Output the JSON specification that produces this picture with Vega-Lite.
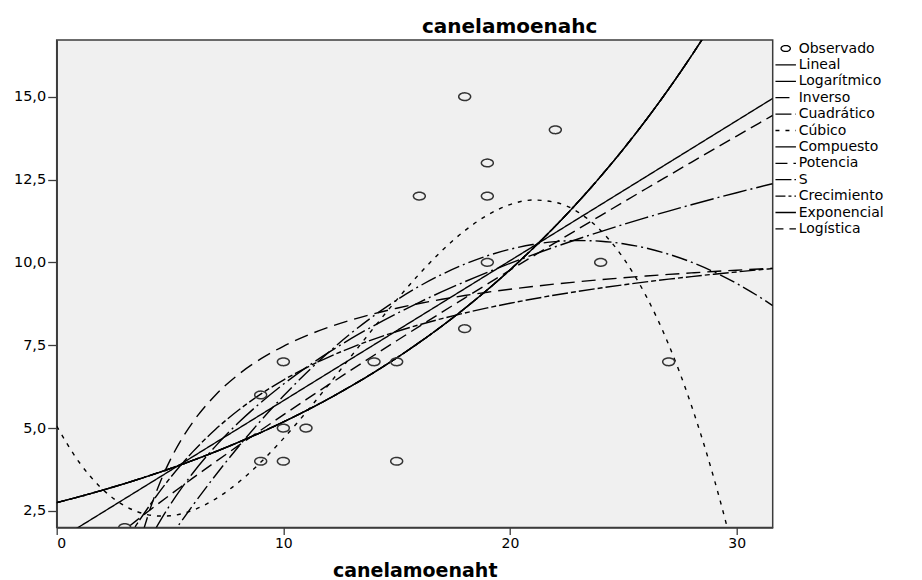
{
  "$schema": "https://vega.github.io/schema/vega-lite/v6.json",
  "width": 716,
  "height": 487.5,
  "autosize": {"type": "none"},
  "padding": {"left": 56.7, "top": 40, "right": 149.3, "bottom": 52.5},
  "background": "white",
  "title": {"text": "canelamoenahc", "font": "DejaVu Sans", "fontSize": 20, "fontWeight": "bold", "color": "black", "anchor": "middle", "dx": 95, "offset": 3},
  "datasets": {
    "observado": [
      {"x": 3, "y": 2, "modelo": "Observado"},
      {"x": 9, "y": 6, "modelo": "Observado"},
      {"x": 9, "y": 4, "modelo": "Observado"},
      {"x": 10, "y": 7, "modelo": "Observado"},
      {"x": 10, "y": 5, "modelo": "Observado"},
      {"x": 10, "y": 4, "modelo": "Observado"},
      {"x": 11, "y": 5, "modelo": "Observado"},
      {"x": 14, "y": 7, "modelo": "Observado"},
      {"x": 15, "y": 7, "modelo": "Observado"},
      {"x": 15, "y": 4, "modelo": "Observado"},
      {"x": 16, "y": 12, "modelo": "Observado"},
      {"x": 18, "y": 15, "modelo": "Observado"},
      {"x": 18, "y": 8, "modelo": "Observado"},
      {"x": 19, "y": 13, "modelo": "Observado"},
      {"x": 19, "y": 12, "modelo": "Observado"},
      {"x": 19, "y": 10, "modelo": "Observado"},
      {"x": 22, "y": 14, "modelo": "Observado"},
      {"x": 24, "y": 10, "modelo": "Observado"},
      {"x": 27, "y": 7, "modelo": "Observado"}
    ],
    "curvas": [
      {"x": 0, "Lineal": 1.600, "Cúbico": 5.056, "Compuesto": 2.750, "Crecimiento": 2.750, "Exponencial": 2.750, "Logística": 2.750},
      {"x": 1, "Lineal": 2.023, "Cúbico": 3.961, "Compuesto": 2.930, "Crecimiento": 2.930, "Exponencial": 2.930, "Logística": 2.930},
      {"x": 2, "Lineal": 2.445, "Cúbico": 3.168, "Potencia": 1.364, "Compuesto": 3.122, "Crecimiento": 3.122, "Exponencial": 3.122, "Logística": 3.122},
      {"x": 3, "Lineal": 2.868, "Logarítmico": -0.009, "Inverso": -0.565, "Cuadrático": -0.389, "Cúbico": 2.653, "Potencia": 1.929, "S": 1.538, "Compuesto": 3.326, "Crecimiento": 3.326, "Exponencial": 3.326, "Logística": 3.326},
      {"x": 3.5, "Lineal": 3.079, "Logarítmico": 0.802, "Inverso": 1.075, "Cuadrático": 0.154, "Cúbico": 2.492, "Potencia": 2.200, "S": 2.061, "Compuesto": 3.433, "Crecimiento": 3.433, "Exponencial": 3.433, "Logística": 3.433},
      {"x": 4, "Lineal": 3.290, "Logarítmico": 1.504, "Inverso": 2.304, "Cuadrático": 0.683, "Cúbico": 2.390, "Potencia": 2.466, "S": 2.566, "Compuesto": 3.544, "Crecimiento": 3.544, "Exponencial": 3.544, "Logística": 3.544},
      {"x": 4.5, "Lineal": 3.501, "Logarítmico": 2.123, "Inverso": 3.261, "Cuadrático": 1.198, "Cúbico": 2.345, "Potencia": 2.728, "S": 3.044, "Compuesto": 3.658, "Crecimiento": 3.658, "Exponencial": 3.658, "Logística": 3.658},
      {"x": 5, "Lineal": 3.713, "Logarítmico": 2.678, "Inverso": 4.026, "Cuadrático": 1.700, "Cúbico": 2.353, "Potencia": 2.985, "S": 3.489, "Compuesto": 3.776, "Crecimiento": 3.776, "Exponencial": 3.776, "Logística": 3.776},
      {"x": 5.5, "Lineal": 3.924, "Logarítmico": 3.179, "Inverso": 4.652, "Cuadrático": 2.188, "Cúbico": 2.412, "Potencia": 3.238, "S": 3.901, "Compuesto": 3.897, "Crecimiento": 3.897, "Exponencial": 3.897, "Logística": 3.897},
      {"x": 6, "Lineal": 4.135, "Logarítmico": 3.637, "Inverso": 5.174, "Cuadrático": 2.662, "Cúbico": 2.518, "Potencia": 3.488, "S": 4.282, "Compuesto": 4.023, "Crecimiento": 4.023, "Exponencial": 4.023, "Logística": 4.023},
      {"x": 7, "Lineal": 4.558, "Logarítmico": 4.447, "Inverso": 5.993, "Cuadrático": 3.570, "Cúbico": 2.859, "Potencia": 3.980, "S": 4.956, "Compuesto": 4.286, "Crecimiento": 4.286, "Exponencial": 4.286, "Logística": 4.286},
      {"x": 8, "Lineal": 4.980, "Logarítmico": 5.150, "Inverso": 6.608, "Cuadrático": 4.423, "Cúbico": 3.350, "Potencia": 4.461, "S": 5.530, "Compuesto": 4.567, "Crecimiento": 4.567, "Exponencial": 4.567, "Logística": 4.567},
      {"x": 9, "Lineal": 5.403, "Logarítmico": 5.769, "Inverso": 7.086, "Cuadrático": 5.221, "Cúbico": 3.966, "Potencia": 4.933, "S": 6.023, "Compuesto": 4.866, "Crecimiento": 4.866, "Exponencial": 4.866, "Logística": 4.866},
      {"x": 10, "Lineal": 5.825, "Logarítmico": 6.324, "Inverso": 7.469, "Cuadrático": 5.965, "Cúbico": 4.682, "Potencia": 5.398, "S": 6.448, "Compuesto": 5.184, "Crecimiento": 5.184, "Exponencial": 5.184, "Logística": 5.184},
      {"x": 11, "Lineal": 6.248, "Logarítmico": 6.825, "Inverso": 7.782, "Cuadrático": 6.654, "Cúbico": 5.472, "Potencia": 5.857, "S": 6.818, "Compuesto": 5.523, "Crecimiento": 5.523, "Exponencial": 5.523, "Logística": 5.523},
      {"x": 12, "Lineal": 6.670, "Logarítmico": 7.283, "Inverso": 8.043, "Cuadrático": 7.288, "Cúbico": 6.311, "Potencia": 6.309, "S": 7.143, "Compuesto": 5.885, "Crecimiento": 5.885, "Exponencial": 5.885, "Logística": 5.885},
      {"x": 13, "Lineal": 7.093, "Logarítmico": 7.704, "Inverso": 8.264, "Cuadrático": 7.868, "Cúbico": 7.174, "Potencia": 6.756, "S": 7.430, "Compuesto": 6.270, "Crecimiento": 6.270, "Exponencial": 6.270, "Logística": 6.270},
      {"x": 14, "Lineal": 7.515, "Logarítmico": 8.093, "Inverso": 8.453, "Cuadrático": 8.393, "Cúbico": 8.035, "Potencia": 7.198, "S": 7.685, "Compuesto": 6.681, "Crecimiento": 6.681, "Exponencial": 6.681, "Logística": 6.681},
      {"x": 15, "Lineal": 7.938, "Logarítmico": 8.456, "Inverso": 8.617, "Cuadrático": 8.863, "Cúbico": 8.869, "Potencia": 7.636, "S": 7.913, "Compuesto": 7.118, "Crecimiento": 7.118, "Exponencial": 7.118, "Logística": 7.118},
      {"x": 16, "Lineal": 8.360, "Logarítmico": 8.796, "Inverso": 8.760, "Cuadrático": 9.280, "Cúbico": 9.650, "Potencia": 8.069, "S": 8.118, "Compuesto": 7.584, "Crecimiento": 7.584, "Exponencial": 7.584, "Logística": 7.584},
      {"x": 17, "Lineal": 8.783, "Logarítmico": 9.115, "Inverso": 8.887, "Cuadrático": 9.640, "Cúbico": 10.354, "Potencia": 8.498, "S": 8.304, "Compuesto": 8.080, "Crecimiento": 8.080, "Exponencial": 8.080, "Logística": 8.080},
      {"x": 18, "Lineal": 9.205, "Logarítmico": 9.415, "Inverso": 8.999, "Cuadrático": 9.947, "Cúbico": 10.954, "Potencia": 8.924, "S": 8.472, "Compuesto": 8.609, "Crecimiento": 8.609, "Exponencial": 8.609, "Logística": 8.609},
      {"x": 19, "Lineal": 9.628, "Logarítmico": 9.700, "Inverso": 9.100, "Cuadrático": 10.199, "Cúbico": 11.425, "Potencia": 9.346, "S": 8.626, "Compuesto": 9.173, "Crecimiento": 9.173, "Exponencial": 9.173, "Logística": 9.173},
      {"x": 20, "Lineal": 10.050, "Logarítmico": 9.970, "Inverso": 9.190, "Cuadrático": 10.396, "Cúbico": 11.743, "Potencia": 9.765, "S": 8.766, "Compuesto": 9.773, "Crecimiento": 9.773, "Exponencial": 9.773, "Logística": 9.773},
      {"x": 21, "Lineal": 10.473, "Logarítmico": 10.226, "Inverso": 9.272, "Cuadrático": 10.539, "Cúbico": 11.881, "Potencia": 10.181, "S": 8.895, "Compuesto": 10.413, "Crecimiento": 10.413, "Exponencial": 10.413, "Logística": 10.413},
      {"x": 22, "Lineal": 10.895, "Logarítmico": 10.471, "Inverso": 9.347, "Cuadrático": 10.627, "Cúbico": 11.814, "Potencia": 10.594, "S": 9.015, "Compuesto": 11.094, "Crecimiento": 11.094, "Exponencial": 11.094, "Logística": 11.094},
      {"x": 23, "Lineal": 11.318, "Logarítmico": 10.705, "Inverso": 9.415, "Cuadrático": 10.660, "Cúbico": 11.517, "Potencia": 11.004, "S": 9.125, "Compuesto": 11.820, "Crecimiento": 11.820, "Exponencial": 11.820, "Logística": 11.820},
      {"x": 24, "Lineal": 11.740, "Logarítmico": 10.929, "Inverso": 9.477, "Cuadrático": 10.639, "Cúbico": 10.964, "Potencia": 11.412, "S": 9.227, "Compuesto": 12.594, "Crecimiento": 12.594, "Exponencial": 12.594, "Logística": 12.594},
      {"x": 25, "Lineal": 12.163, "Logarítmico": 11.143, "Inverso": 9.535, "Cuadrático": 10.563, "Cúbico": 10.131, "Potencia": 11.818, "S": 9.322, "Compuesto": 13.418, "Crecimiento": 13.418, "Exponencial": 13.418, "Logística": 13.418},
      {"x": 26, "Lineal": 12.585, "Logarítmico": 11.350, "Inverso": 9.588, "Cuadrático": 10.432, "Cúbico": 8.991, "Potencia": 12.221, "S": 9.410, "Compuesto": 14.297, "Crecimiento": 14.297, "Exponencial": 14.297, "Logística": 14.297},
      {"x": 27, "Lineal": 13.008, "Logarítmico": 11.548, "Inverso": 9.637, "Cuadrático": 10.247, "Cúbico": 7.519, "Potencia": 12.621, "S": 9.493, "Compuesto": 15.232, "Crecimiento": 15.232, "Exponencial": 15.232, "Logística": 15.232},
      {"x": 28, "Lineal": 13.430, "Logarítmico": 11.739, "Inverso": 9.682, "Cuadrático": 10.007, "Cúbico": 5.690, "Potencia": 13.020, "S": 9.570, "Compuesto": 16.229, "Crecimiento": 16.229, "Exponencial": 16.229, "Logística": 16.229},
      {"x": 29, "Lineal": 13.853, "Logarítmico": 11.924, "Inverso": 9.725, "Cuadrático": 9.713, "Cúbico": 3.479, "Potencia": 13.417, "S": 9.643, "Compuesto": 17.292, "Crecimiento": 17.292, "Exponencial": 17.292, "Logística": 17.292},
      {"x": 30, "Lineal": 14.275, "Logarítmico": 12.102, "Inverso": 9.764, "Cuadrático": 9.363, "Cúbico": 0.860, "Potencia": 13.811, "S": 9.711, "Compuesto": 18.424, "Crecimiento": 18.424, "Exponencial": 18.424, "Logística": 18.424},
      {"x": 31, "Lineal": 14.698, "Logarítmico": 12.275, "Inverso": 9.801, "Cuadrático": 8.960, "Cúbico": -2.193, "Potencia": 14.204, "S": 9.776},
      {"x": 31.59, "Lineal": 14.947, "Logarítmico": 12.374, "Inverso": 9.822, "Cuadrático": 8.696, "Potencia": 14.435, "S": 9.812}
    ]
  },
  "layer": [
    {
      "data": {"name": "curvas"},
      "transform": [
        {"fold": ["Lineal", "Logarítmico", "Inverso", "Cuadrático", "Cúbico", "Compuesto", "Potencia", "S", "Crecimiento", "Exponencial", "Logística"], "as": ["modelo", "y"]},
        {"filter": "isValid(datum.y)"}
      ],
      "mark": {"type": "line", "clip": true, "strokeWidth": 1.4, "color": "black", "interpolate": "monotone"},
      "encoding": {
        "x": {"field": "x", "type": "quantitative", "scale": {"domain": [0, 31.59], "nice": false, "zero": false},
              "axis": {"values": [0, 10, 20, 30], "format": "d", "tickSize": 7, "labelPadding": 2, "labelFontSize": 14, "title": "canelamoenaht", "titlePadding": 11}},
        "y": {"field": "y", "type": "quantitative", "scale": {"domain": [2, 16.71], "nice": false, "zero": false},
              "axis": {"values": [2.5, 5, 7.5, 10, 12.5, 15], "labelExpr": "replace(format(datum.value, '.1f'), '.', ',')", "tickSize": 9, "labelPadding": 2, "labelFontSize": 14.5, "title": null}},
        "strokeDash": {"field": "modelo", "type": "nominal",
          "scale": {"domain": ["Observado", "Lineal", "Logarítmico", "Inverso", "Cuadrático", "Cúbico", "Compuesto", "Potencia", "S", "Crecimiento", "Exponencial", "Logística"],
                    "range": [[1, 0], [1, 0], [24, 4, 2, 4], [14, 7], [16, 4, 2, 4], [4, 6], [24, 3, 2, 3], [12, 6], [16, 3, 5, 3], [10, 3, 3, 3], [1, 0], [8, 6]]},
          "legend": {"title": null, "clipHeight": 13, "rowPadding": 1.4}}
      }
    },
    {
      "data": {"name": "observado"},
      "mark": {"type": "point", "clip": true, "filled": false, "size": 700, "strokeWidth": 1.5, "color": "#333333", "opacity": 1},
      "encoding": {
        "x": {"field": "x", "type": "quantitative"},
        "y": {"field": "y", "type": "quantitative"},
        "strokeDash": {"field": "modelo", "type": "nominal"},
        "shape": {"field": "modelo", "type": "nominal",
          "scale": {"domain": ["Observado", "Lineal", "Logarítmico", "Inverso", "Cuadrático", "Cúbico", "Compuesto", "Potencia", "S", "Crecimiento", "Exponencial", "Logística"],
                    "range": ["M-0.45,0A0.45,0.29 0 1,0 0.45,0A0.45,0.29 0 1,0 -0.45,0Z", "stroke", "stroke", "stroke", "stroke", "stroke", "stroke", "stroke", "stroke", "stroke", "stroke", "stroke"]},
          "legend": {"title": null, "clipHeight": 13, "rowPadding": 1.4}}
      }
    }
  ],
  "config": {
    "view": {"fill": "#F0F0F0", "stroke": "#3c3c3c", "strokeWidth": 1.5},
    "axis": {"labelFont": "DejaVu Sans", "labelFontSize": 14, "labelColor": "black", "tickColor": "#3c3c3c", "tickWidth": 1.3, "domainColor": "#3c3c3c", "domainWidth": 1.5, "grid": false,
             "titleFont": "DejaVu Sans", "titleFontWeight": "bold", "titleFontSize": 19, "titleColor": "black"},
    "legend": {"offset": 0, "padding": 2, "labelFont": "DejaVu Sans", "labelFontSize": 14, "labelColor": "black", "labelOffset": 2, "labelLimit": 200,
               "symbolSize": 420, "symbolStrokeColor": "black", "symbolStrokeWidth": 1.3, "symbolFillColor": "transparent", "clipHeight": 13, "rowPadding": 1.4}
  }
}
